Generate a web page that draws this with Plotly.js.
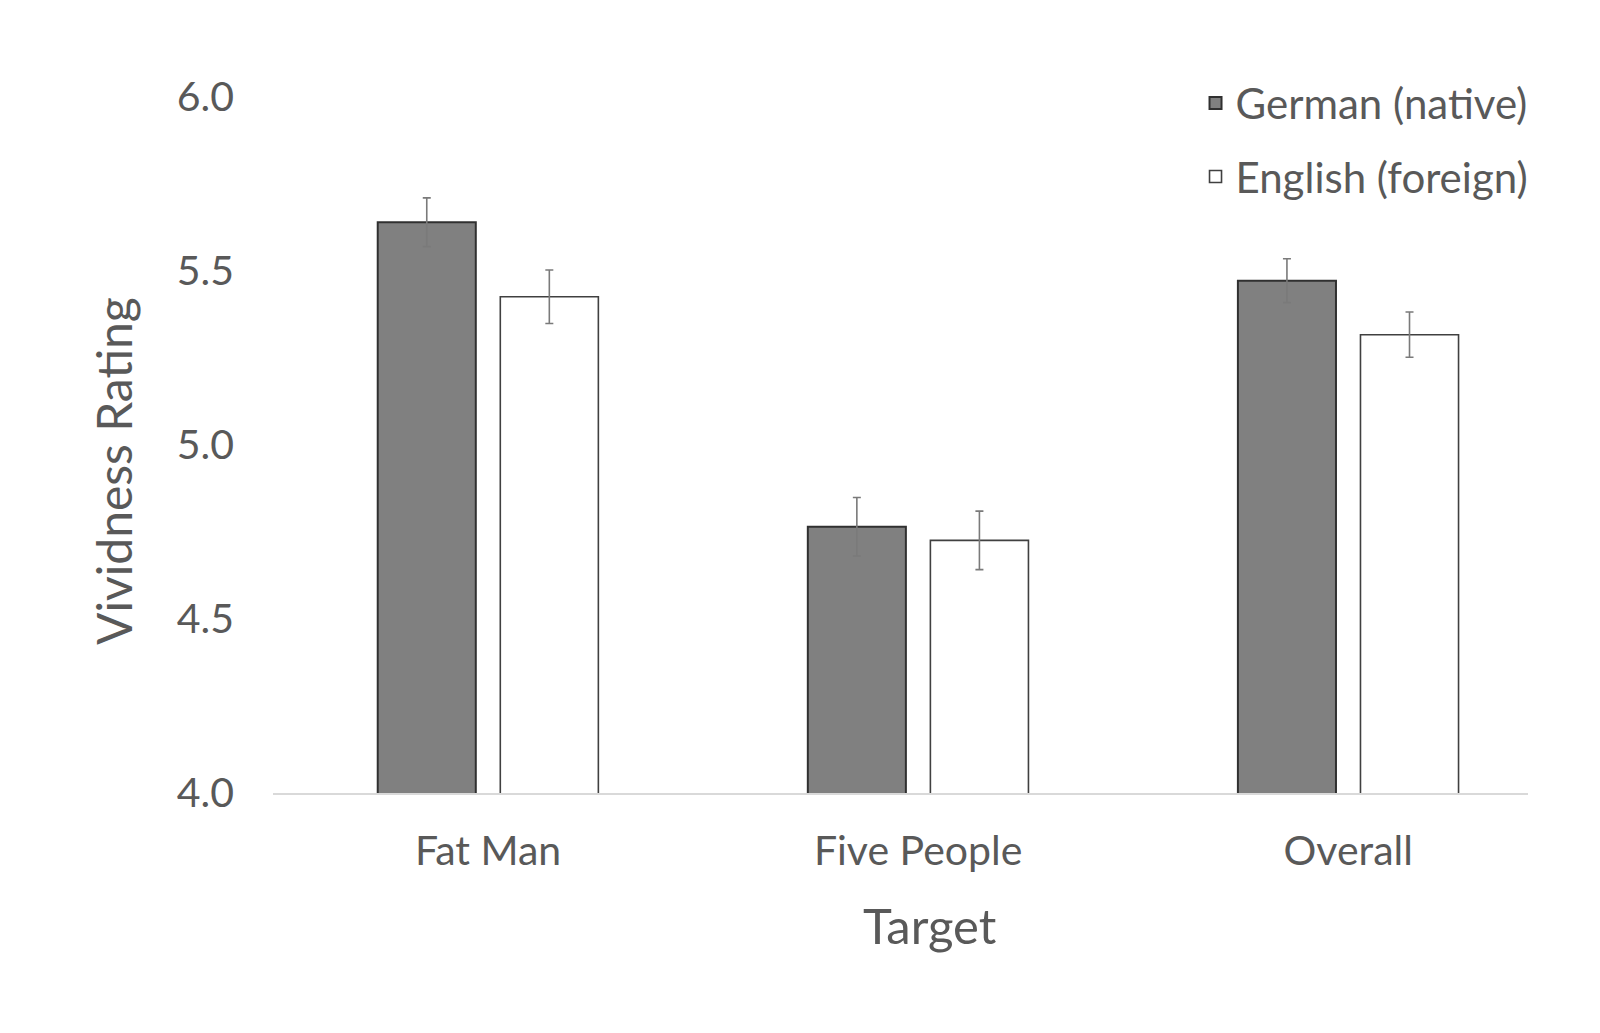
<!DOCTYPE html>
<html>
<head>
<meta charset="utf-8">
<script src="https://cdn.plot.ly/plotly-3.0.1.min.js"></script>
<style>html,body{margin:0;padding:0;background:#fff;}#chart{width:1600px;height:1033px;}</style>
</head>
<body>
<div id="chart"></div>
<script>
const categories = ["Fat Man", "Five People", "Overall"];
const seriesNames = ["German (native)", "English (foreign)"];
const germanValues = [5.64, 4.765, 5.472];
const germanErrors = [0.07, 0.084, 0.063];
const englishValues = [5.426, 4.726, 5.317];
const englishErrors = [0.077, 0.084, 0.065];
const yTickValues = [4.0, 4.5, 5.0, 5.5, 6.0];
const yTickLabels = ["4.0", "4.5", "5.0", "5.5", "6.0"];
const xTitle = "Target";
const yTitle = "Vividness Rating";

const FONT = "Lato, 'Open Sans', sans-serif";
const TXT = "#595959";

const traces = [
  {
    type: "bar", name: seriesNames[0], x: categories, y: germanValues,
    legendgroup: "g1",
    marker: {color: "#808080", line: {color: "#303030", width: 2}},
    error_y: {type: "data", array: germanErrors, visible: true, color: "#7a7a7a", thickness: 1.6, width: 4}
  },
  {
    type: "bar", name: seriesNames[1], x: categories, y: englishValues,
    legendgroup: "g2",
    marker: {color: "#ffffff", line: {color: "#404040", width: 1.6}},
    error_y: {type: "data", array: englishErrors, visible: true, color: "#7a7a7a", thickness: 1.6, width: 4}
  }
];

const layout = {
  width: 1600, height: 1033,
  paper_bgcolor: "#ffffff", plot_bgcolor: "#ffffff",
  margin: {l: 273, r: 72, t: 97, b: 240},
  font: {family: FONT, color: TXT, size: 41},
  barmode: "group", bargap: 0.43, bargroupgap: 0.2,
  showlegend: true,
  legend: {
    x: 1.0044, xanchor: "right", y: 1.04, yanchor: "top",
    font: {family: FONT, size: 42, color: TXT},
    bgcolor: "rgba(0,0,0,0)", tracegroupgap: 16, traceorder: "grouped"
  },
  xaxis: {
    type: "category", range: [-0.5, 2.418],
    showline: true, linecolor: "#d9d9d9", linewidth: 1.5,
    showgrid: false, zeroline: false, ticks: "",
    tickfont: {family: FONT, size: 41, color: TXT},
    ticklabelstandoff: 21,
    automargin: false
  },
  yaxis: {
    range: [4, 6], tickvals: yTickValues, ticktext: yTickLabels,
    showgrid: false, zeroline: false, showline: false, ticks: "",
    tickfont: {family: FONT, size: 41, color: TXT},
    ticklabelstandoff: 38,
    automargin: false
  },
  annotations: [
    {text: xTitle, xref: "paper", yref: "paper", x: 0.5235, y: -0.1894,
     xanchor: "center", yanchor: "middle", showarrow: false,
     font: {family: FONT, size: 49, color: TXT}},
    {text: yTitle, xref: "paper", yref: "paper", x: -0.1275, y: 0.4626,
     xanchor: "center", yanchor: "middle", showarrow: false, textangle: -90,
     font: {family: FONT, size: 48, color: TXT}}
  ]
};

Plotly.newPlot("chart", traces, layout, {displayModeBar: false, staticPlot: true});
</script>
</body>
</html>
